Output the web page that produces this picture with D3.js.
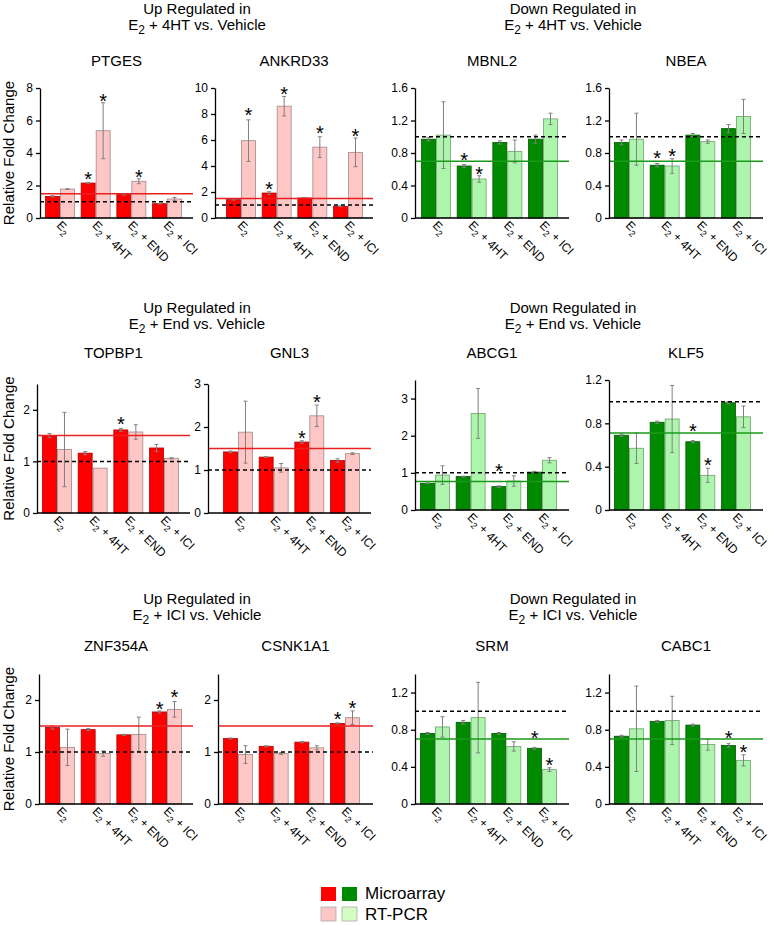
<!DOCTYPE html>
<html><head><meta charset="utf-8">
<script src="https://cdn.jsdelivr.net/npm/d3@7"></script>
<style>body{margin:0;background:#fff} text{font-family:"Liberation Sans",Arial,sans-serif;fill:#000}</style>
</head><body><svg id="c" width="772" height="925"></svg>
<script>
// ---------- data ----------
const groups = ["E2", "E2 + 4HT", "E2 + END", "E2 + ICI"];
const groupSuffix = ["", " + 4HT", " + END", " + ICI"];
const genes = ["PTGES","ANKRD33","MBNL2","NBEA","TOPBP1","GNL3","ABCG1","KLF5","ZNF354A","CSNK1A1","SRM","CABC1"];
const direction = ["up","up","down","down","up","up","down","down","up","up","down","down"];
const sectionTitles = [
  ["Up Regulated in", " + 4HT vs. Vehicle"], ["Down Regulated in", " + 4HT vs. Vehicle"],
  ["Up Regulated in", " + End vs. Vehicle"], ["Down Regulated in", " + End vs. Vehicle"],
  ["Up Regulated in", " + ICI vs. Vehicle"], ["Down Regulated in", " + ICI vs. Vehicle"]
];
const yMax = [8,10,1.6,1.6, 2.5,3,3.5,1.2, 2.5,2.5,1.4,1.4];
const yTicks = [
  [0,2,4,6,8],[0,2,4,6,8,10],[0,0.4,0.8,1.2,1.6],[0,0.4,0.8,1.2,1.6],
  [0,1,2],[0,1,2,3],[0,1,2,3],[0,0.4,0.8,1.2],
  [0,1,2],[0,1,2],[0,0.4,0.8,1.2],[0,0.4,0.8,1.2]
];
const threshold = [1.5,1.5,0.7,0.7, 1.5,1.5,0.77,0.71, 1.5,1.5,0.7,0.7];
const baseline = 1.0;
const microarray = [
  [1.33,2.15,1.44,0.88],[1.41,1.92,1.54,0.90],[0.97,0.64,0.93,0.97],[0.93,0.65,1.02,1.10],
  [1.50,1.16,1.61,1.26],[1.42,1.30,1.65,1.22],[0.72,0.90,0.63,1.02],[0.69,0.81,0.63,0.99],
  [1.47,1.43,1.33,1.77],[1.26,1.11,1.19,1.55],[0.76,0.88,0.76,0.60],[0.73,0.89,0.85,0.63]
];
const microarrayErr = [
  [0.04,0.04,0.03,0.02],[0.03,0.10,0.03,0.03],[0.02,0.02,0.02,0.05],[0.03,0.02,0.02,0.05],
  [0.04,0.03,0.03,0.07],[0.02,0.01,0.03,0.04],[0.01,0.01,0.02,0.02],[0.01,0.01,0.01,0.01],
  [0.03,0.02,0.01,0.02],[0.01,0.01,0.01,0.01],[0.01,0.02,0.01,0.01],[0.01,0.01,0.01,0.02]
];
const rtpcr = [
  [1.78,5.37,2.26,1.17],[5.95,8.60,5.45,5.05],[1.02,0.48,0.82,1.22],[0.97,0.64,0.94,1.25],
  [1.23,0.87,1.57,1.06],[1.88,1.05,2.26,1.38],[0.94,2.60,0.78,1.34],[0.57,0.84,0.32,0.86],
  [1.09,0.97,1.34,1.82],[0.95,0.97,1.08,1.66],[0.83,0.93,0.62,0.37],[0.81,0.90,0.64,0.47]
];
const rtpcrErr = [
  [0.02,1.72,0.15,0.10],[1.60,0.75,0.80,1.10],[0.41,0.04,0.14,0.07],[0.32,0.09,0.02,0.21],
  [0.72,0.00,0.14,0.01],[0.72,0.10,0.25,0.02],[0.25,0.67,0.14,0.07],[0.14,0.31,0.065,0.10],
  [0.35,0.05,0.33,0.15],[0.17,0.02,0.04,0.13],[0.11,0.38,0.05,0.02],[0.46,0.26,0.06,0.06]
];
// significance stars: [group index, series (0 microarray, 1 RT-PCR), value at star centre]
const stars = [
  [[1,0,2.63],[1,1,7.45],[2,1,2.77]],
  [[0,1,8.2],[1,0,2.56],[1,1,9.87],[2,1,6.85],[3,1,6.6]],
  [[1,0,0.76],[1,1,0.59]],
  [[1,0,0.79],[1,1,0.81]],
  [[2,0,1.81]],
  [[2,0,1.84],[2,1,2.67]],
  [[2,0,1.16]],
  [[2,0,0.77],[2,1,0.45]],
  [[3,0,1.90],[3,1,2.13]],
  [[3,0,1.71],[3,1,1.92]],
  [[3,0,0.75],[3,1,0.46]],
  [[3,0,0.75],[3,1,0.60]]
];
const legendLabels = ["Microarray", "RT-PCR"];

// ---------- style / layout ----------
const colors = {
  up:   {fill:["#ff0000","#ffc6c6"], stroke:["#b00000","#a08888"], line:"#e82020"},
  down: {fill:["#008a00","#adf5ad"], stroke:["#005a00","#70a070"], line:"#1a9a1a"}
};
// x0/x1: axis extent, bx: left edge of first bar
const layout = [
  {x0:40,x1:193,bx:45,y0:218,y1:88},{x0:215,x1:373,bx:226,y0:218,y1:88},{x0:415,x1:569,bx:421,y0:218,y1:88},{x0:609,x1:763,bx:614,y0:218,y1:88},
  {x0:37,x1:190,bx:42,y0:513,y1:384},{x0:208,x1:371,bx:223,y0:513,y1:384},{x0:415,x1:569,bx:420,y0:510,y1:380},{x0:609,x1:763,bx:614,y0:510,y1:380},
  {x0:39,x1:193,bx:45,y0:804,y1:674},{x0:218,x1:373,bx:223,y0:804,y1:674},{x0:415,x1:569,bx:420,y0:804,y1:674},{x0:609,x1:763,bx:614,y0:804,y1:674}
];
const barSpan = 137;
const sectionPos = [
  {cx:197,y:14},{cx:573,y:14},{cx:197,y:313},{cx:573,y:313},{cx:197,y:604},{cx:573,y:604}
];
const geneTitleY = [66,358,651];
const svg = d3.select("#c");

function subText(sel, rest, fs, subfs) {
  sel.append("tspan").text("E");
  sel.append("tspan").attr("font-size", subfs).attr("dy", fs*0.28).text("2");
  sel.append("tspan").attr("dy", -fs*0.28).text(rest);
}

// section titles
sectionTitles.forEach((t,i) => {
  const p = sectionPos[i];
  svg.append("text").attr("x",p.cx).attr("y",p.y).attr("text-anchor","middle").attr("font-size",15).text(t[0]);
  const t2 = svg.append("text").attr("x",p.cx).attr("y",p.y+16).attr("text-anchor","middle").attr("font-size",15);
  subText(t2, t[1], 15, 12);
});

genes.forEach((gene, gi) => {
  const L = layout[gi];
  const c = colors[direction[gi]];
  const row = Math.floor(gi/4);
  const x = d3.scaleBand().domain(groups).range([L.bx, L.bx + barSpan]).paddingInner(0.16).paddingOuter(0);
  const xs = d3.scaleBand().domain([0,1]).range([0, x.bandwidth()]);
  const y = d3.scaleLinear().domain([0, yMax[gi]]).range([L.y0, L.y1]);
  const g = svg.append("g");

  // title
  g.append("text").attr("x",(L.x0+L.x1)/2).attr("y",geneTitleY[row]).attr("text-anchor","middle")
    .attr("font-size",15).text(gene);

  // y label for first column
  if (gi % 4 === 0) {
    g.append("text").attr("transform",`translate(14,${(L.y0+L.y1)/2}) rotate(-90)`)
      .attr("text-anchor","middle").attr("font-size",15).text("Relative Fold Change");
  }

  const series = [microarray[gi], rtpcr[gi]];
  const errs = [microarrayErr[gi], rtpcrErr[gi]];
  series.forEach((vals, si) => {
    g.selectAll(null).data(vals).enter().append("rect")
      .attr("x",(d,i)=>x(groups[i])+xs(si)+0.5)
      .attr("y",d=>y(d))
      .attr("width",xs.bandwidth()-1)
      .attr("height",d=>y(0)-y(d))
      .attr("fill",c.fill[si]).attr("stroke",c.stroke[si]).attr("stroke-width",0.8);
  });
  // error bars
  series.forEach((vals, si) => {
    vals.forEach((v,i) => {
      const e = errs[si][i];
      if (!e) return;
      const cx = x(groups[i]) + xs(si) + xs.bandwidth()/2;
      g.append("line").attr("x1",cx).attr("x2",cx).attr("y1",y(v+e)).attr("y2",y(v-e))
        .attr("stroke","#808080").attr("stroke-width",1);
      [v+e, v-e].forEach(w => g.append("line").attr("x1",cx-2).attr("x2",cx+2).attr("y1",y(w)).attr("y2",y(w))
        .attr("stroke","#808080").attr("stroke-width",1));
    });
  });
  // reference lines
  g.append("line").attr("x1",L.x0).attr("x2",L.x1).attr("y1",y(baseline)).attr("y2",y(baseline))
    .attr("stroke","#000").attr("stroke-width",1.5).attr("stroke-dasharray","4,3");
  g.append("line").attr("x1",L.x0).attr("x2",L.x1).attr("y1",y(threshold[gi])).attr("y2",y(threshold[gi]))
    .attr("stroke",c.line).attr("stroke-width",1.5);

  // stars
  stars[gi].forEach(([gr, si, v]) => {
    const cx = x(groups[gr]) + xs(si) + xs.bandwidth()/2;
    g.append("text").attr("x",cx).attr("y",y(v)+11).attr("text-anchor","middle")
      .attr("font-size",20).text("*");
  });

  // axes
  const ya = d3.axisLeft(y).tickValues(yTicks[gi]).tickSize(4).tickSizeOuter(0).tickPadding(3)
    .tickFormat(d3.format("~g"));
  const yg = g.append("g").attr("transform",`translate(${L.x0},0)`).call(ya);
  yg.selectAll("text").attr("font-size",12).attr("font-family",'"Liberation Sans",Arial,sans-serif');
  yg.selectAll("path,line").attr("stroke","#000").attr("stroke-width",1.3);
  g.append("line").attr("x1",L.x0).attr("x2",L.x1).attr("y1",y(0)).attr("y2",y(0))
    .attr("stroke","#000").attr("stroke-width",1.3);

  // x labels
  groups.forEach((grp, i) => {
    const cx = x(grp) + x.bandwidth()/2;
    const t = g.append("text").attr("transform",`translate(${cx-4},${L.y0+8}) rotate(45)`)
      .attr("font-size",12);
    subText(t, groupSuffix[i], 12, 9);
  });
});

// legend
const lg = svg.append("g");
[["#ff0000","#008a00"],["#ffc6c6","#d4fdc4"]].forEach((cols, r) => {
  cols.forEach((col, k) => {
    lg.append("rect").attr("x",321 + k*21).attr("y",887 + r*20).attr("width",15).attr("height",14)
      .attr("fill",col).attr("stroke",r===0?"none":"#aaa").attr("stroke-width",0.8);
  });
  lg.append("text").attr("x",365).attr("y",899 + r*21).attr("font-size",17).text(legendLabels[r]);
});
</script></body></html>
